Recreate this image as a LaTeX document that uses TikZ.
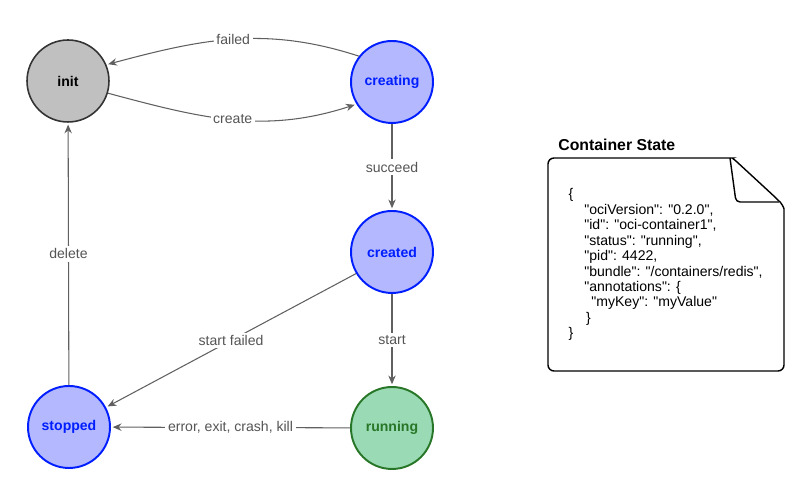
\documentclass[tikz,border=0pt]{standalone}
\usepackage{fontspec}
\setmainfont{Liberation Sans}[Ligatures=TeXOff]
\usepackage{xcolor}
\usetikzlibrary{arrows.meta}
\definecolor{grayfill}{RGB}{192,192,192}
\definecolor{graydraw}{RGB}{51,51,51}
\definecolor{bluefill}{RGB}{179,184,255}
\definecolor{bluedraw}{RGB}{0,30,255}
\definecolor{greenfill}{RGB}{154,218,180}
\definecolor{greendraw}{RGB}{40,118,40}
\definecolor{wire}{RGB}{96,96,96}
\definecolor{wiretext}{RGB}{85,85,85}
\newcommand{\qd}{\symbol{"0022}}

\begin{document}
\begin{tikzpicture}
	[x=0.02cm,y=0.02cm,line width=0.6,
	state/.style = {
		draw, circle, inner sep=0cm, minimum size=1.64cm,
		font=\fontsize{8}{9.6}\selectfont\bfseries
	},
	graystate/.style = {
		state, fill=grayfill, draw=graydraw, line width=0.9pt, text=black
	},
	bluestate/.style = {
		state, fill=bluefill, draw=bluedraw, line width=1.1pt, text=bluedraw
	},
	greenstate/.style = {
		state, fill=greenfill, draw=greendraw, line width=1.1pt, text=greendraw
	},
	wire/.style = {
		draw=wire, -{Stealth[length=5pt,width=4.2pt]}, shorten >=1pt
	},
	lbl/.style = {
		fill=white, text=wiretext, inner sep=1.5pt,
		font=\fontsize{8}{9.6}\selectfont
	}]
	\useasboundingbox (0,0) rectangle (802,479);
	
	%Draw nodes
	\node[graystate] at (68,398) (init) {init};
	\node[bluestate] at (392,397) (creating) {creating};
	\node[bluestate] at (392,227) (created) {created};
	\node[bluestate] at (69,52) (stopped) {stopped};
	\node[greenstate] at (392,51) (running) {running};
	
	%Draw wires
	\draw[wire] (creating.142) to[out=162,in=15] node[lbl] (lfailed) {failed} (init.23);
	\draw[wire] (init.-17) to[out=-15,in=198] node[lbl] (lcreate) {create} (creating.212);
	\draw[wire] (creating) -- node[lbl] (lsucceed) {succeed} (created);
	\draw[wire] (created) -- node[lbl] (lstart) {start} (running);
	\draw[wire] (created.211) -- node[lbl] (lstartfailed) {start failed} (stopped.28);
	\draw[wire] (running) -- node[lbl] (lerror) {error, exit, crash, kill} (stopped);
	\draw[wire] (stopped) -- node[lbl] (ldelete) {delete} (init);
	
	%Draw container state
	\draw[line width=0.8pt, rounded corners=0.12cm]
	(548,321) -- (727,321) to[out=0,in=135,rounded corners=0] (737,317)
	-- (776,281) to[out=-45,in=90] (784,264) -- (784,108) -- (548,108) -- cycle;
	\draw[line width=0.8pt, rounded corners=0.08cm]
	(730,321) -- (736,277) -- (779,277);
	\node[anchor=base west, font=\fontsize{9}{11}\selectfont\bfseries] at (552,328) (title) {Container State};
	\node[anchor=north west, align=left, inner sep=0pt, font=\fontsize{8}{8.8}\selectfont] at (568,291) (json)
	{\{\\
	\hspace*{9pt}\qd ociVersion\qd: \qd 0.2.0\qd,\\
	\hspace*{9pt}\qd id\qd: \qd oci-container1\qd,\\
	\hspace*{9pt}\qd status\qd: \qd running\qd,\\
	\hspace*{9pt}\qd pid\qd: 4422,\\
	\hspace*{9pt}\qd bundle\qd: \qd /containers/redis\qd,\\
	\hspace*{9pt}\qd annotations\qd: \{\\
	\hspace*{13pt}\qd myKey\qd: \qd myValue\qd\\
	\hspace*{10pt}\}\\
	\}};
\end{tikzpicture}
\end{document}
